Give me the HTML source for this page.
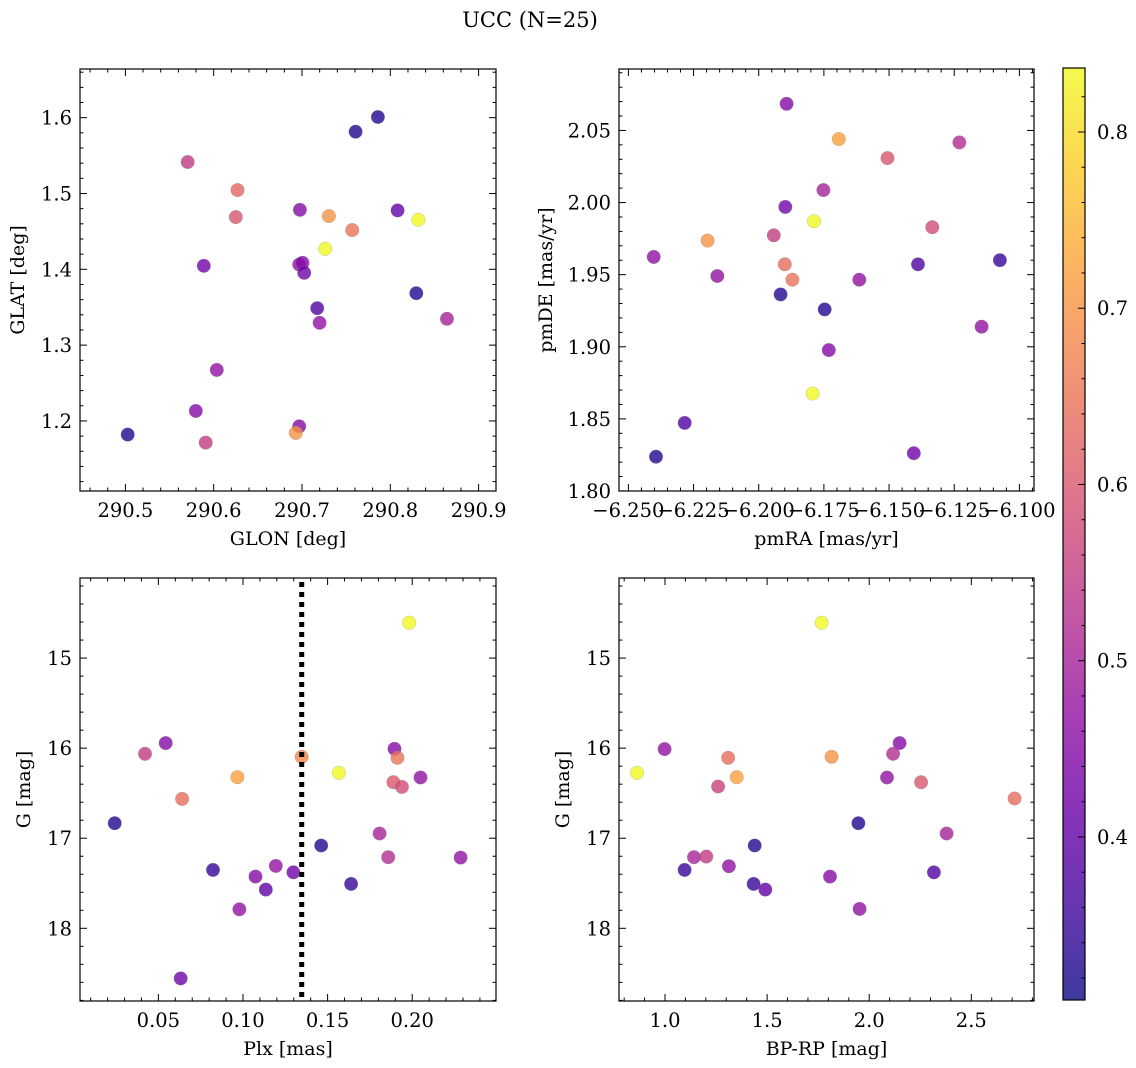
<!DOCTYPE html>
<html><head><meta charset="utf-8"><style>
html,body{margin:0;padding:0;background:#fff;}
svg{display:block;font-family:"DejaVu Serif","Liberation Serif",serif;}
</style></head><body>
<svg id="fig" width="1136" height="1068" viewBox="0 0 1136 1068" xmlns="http://www.w3.org/2000/svg">
<defs>
<linearGradient id="plasma" x1="0" y1="1" x2="0" y2="0"></linearGradient>
</defs>
<text x="530" y="27" font-size="21" text-anchor="middle">UCC (N=25)</text>
</svg>
<script>
// ---- data ----
const glon = [290.5706,290.627,290.625,290.7607,290.786,290.6976,290.7305,290.7569,290.8083,290.8317,290.7263,290.5888,290.6968,290.7006,290.7025,290.7172,290.7199,290.8294,290.8642,290.6035,290.5797,290.591,290.5026,290.6968,290.693];
const glat = [1.5415,1.5045,1.4689,1.5815,1.6009,1.4785,1.4702,1.4517,1.4777,1.4653,1.4271,1.4046,1.4064,1.4086,1.3954,1.3487,1.3294,1.3685,1.3347,1.2673,1.2132,1.1714,1.182,1.193,1.1842];
const probTL = [0.55,0.63,0.6,0.33,0.33,0.45,0.7,0.65,0.4,0.85,0.85,0.42,0.47,0.45,0.42,0.38,0.47,0.33,0.5,0.47,0.45,0.55,0.33,0.45,0.7];

const pmra = [-6.1893,-6.1693,-6.1506,-6.123,-6.1752,-6.1898,-6.1788,-6.1942,-6.1334,-6.2196,-6.2403,-6.2159,-6.19,-6.1871,-6.1614,-6.1389,-6.1075,-6.1916,-6.1747,-6.1731,-6.1145,-6.1793,-6.2284,-6.2394,-6.1405];
const pmde = [2.0685,2.044,2.0308,2.0417,2.0086,1.997,1.987,1.9773,1.9829,1.9736,1.9623,1.9491,1.9572,1.9465,1.9465,1.9572,1.96,1.9363,1.9259,1.8977,1.9139,1.8676,1.8472,1.8238,1.8262];
const probTR = [0.45,0.72,0.6,0.52,0.5,0.42,0.85,0.55,0.58,0.7,0.47,0.47,0.64,0.65,0.47,0.38,0.35,0.33,0.33,0.45,0.47,0.85,0.38,0.33,0.42];

const plx = [0.1982,0.0421,0.0543,0.0967,0.064,0.1347,0.1566,0.1895,0.1913,0.1889,0.1939,0.2049,0.0242,0.1807,0.1462,0.1858,0.2286,0.0823,0.1194,0.1074,0.1135,0.1298,0.1639,0.0979,0.0632];
const gBL = [14.607,16.063,15.944,16.322,16.563,16.096,16.274,16.007,16.107,16.378,16.43,16.326,16.833,16.948,17.081,17.211,17.215,17.352,17.307,17.426,17.57,17.378,17.507,17.789,18.556];
const probBL = [0.85,0.55,0.45,0.72,0.64,0.68,0.85,0.45,0.65,0.6,0.58,0.47,0.33,0.5,0.33,0.52,0.47,0.35,0.47,0.45,0.4,0.42,0.35,0.47,0.42];
const plxCut = [0.1347];

const bprp = [1.767,2.149,2.117,0.998,1.309,1.816,0.863,1.351,2.087,1.26,2.254,2.712,1.947,2.379,1.439,1.142,1.202,1.096,1.313,2.317,1.808,1.434,1.491,1.953];
const gBR = [14.607,15.944,16.063,16.011,16.107,16.096,16.274,16.322,16.326,16.426,16.378,16.559,16.833,16.948,17.081,17.211,17.204,17.352,17.311,17.378,17.426,17.507,17.57,17.785];
const probBR = [0.85,0.45,0.52,0.47,0.64,0.7,0.85,0.72,0.47,0.56,0.6,0.64,0.33,0.5,0.33,0.5,0.55,0.35,0.47,0.38,0.45,0.35,0.4,0.47];

const tlXTicks = [290.5,290.6,290.7,290.8,290.9];
const tlYTicks = [1.2,1.3,1.4,1.5,1.6];
const trXTicks = [-6.25,-6.225,-6.2,-6.175,-6.15,-6.125,-6.1];
const trYTicks = [1.8,1.85,1.9,1.95,2.0,2.05];
const blXTicks = [0.05,0.1,0.15,0.2];
const gTicks = [15,16,17,18];
const brXTicks = [1.0,1.5,2.0,2.5];
const cbTicks = [0.4,0.5,0.6,0.7,0.8];

const CMIN = 0.3075, CMAX = 0.8363;
const TICKFS = 19.5, LABFS = 19;
const NS = "http://www.w3.org/2000/svg";
const svg = document.getElementById('fig');
const stops = [[0,13,8,135],[0.1,65,4,157],[0.2,106,0,168],[0.3,143,13,164],[0.4,177,42,144],[0.5,204,71,120],[0.6,225,100,98],[0.7,242,132,75],[0.8,252,166,54],[0.9,252,206,37],[1,240,249,33]];
function cmap(v){
  let t=(v-CMIN)/(CMAX-CMIN); t=Math.max(0,Math.min(1,t));
  for(let i=0;i<stops.length-1;i++){
    const a=stops[i],b=stops[i+1];
    if(t<=b[0]){const f=(t-a[0])/(b[0]-a[0]);
      return 'rgb('+[1,2,3].map(k=>Math.round(a[k]+(b[k]-a[k])*f)).join(',')+')';}
  }
  return 'rgb(240,249,33)';
}
function mk(tag,attrs,parent){const e=document.createElementNS(NS,tag);for(const k in attrs)e.setAttribute(k,attrs[k]);(parent||svg).appendChild(e);return e;}
function fmt(v,d){return (v<0?'\u2212':'')+Math.abs(v).toFixed(d);}

function panel(o){
  const g=mk('g',{});
  
  
  const sx=v=>o.x0+(v-o.xd[0])/(o.xd[1]-o.xd[0])*(o.x1-o.x0);
  const sy=v=>o.inv ? o.y0+(v-o.yd[0])/(o.yd[1]-o.yd[0])*(o.y1-o.y0)
                    : o.y1-(v-o.yd[0])/(o.yd[1]-o.yd[0])*(o.y1-o.y0);
  const pg=mk('g',{},g);
  for(let i=0;i<o.xs.length;i++){
    const c=mk('circle',{cx:sx(o.xs[i]).toFixed(1),cy:sy(o.ys[i]).toFixed(1),r:6.8,fill:cmap(o.ps[i]),'fill-opacity':0.8,stroke:'#888','stroke-width':0.4,'stroke-opacity':0.6},pg);
    
    
  }
  if(o.vline){
    const l=mk('line',{x1:sx(o.vline[0]),x2:sx(o.vline[0]),y1:o.y0+4,y2:o.y1,stroke:'#000','stroke-width':5,'stroke-dasharray':'5 5'},g);
    
    
  }
  const fr=mk('rect',{x:o.x0,y:o.y0,width:o.x1-o.x0,height:o.y1-o.y0,fill:'none',stroke:'#000','stroke-width':1.2},g);
  
  
  const tk=mk('g',{stroke:'#000','stroke-width':1},g);
  const lo=o.xd[0],hi=o.xd[1];
  for(let k=Math.ceil(lo/o.xm-1e-6);k*o.xm<=hi+1e-9;k++){
    const v=k*o.xm,x=sx(v);
    const major=o.xt.some(t=>Math.abs(t-v)<o.xm*0.01);
    const L=major?7:3.5;
    mk('line',{x1:x,x2:x,y1:o.y1,y2:o.y1-L},tk);
    mk('line',{x1:x,x2:x,y1:o.y0,y2:o.y0+L},tk);
  }
  for(let k=Math.ceil(o.yd[0]/o.ym-1e-6);k*o.ym<=o.yd[1]+1e-9;k++){
    const v=k*o.ym,y=sy(v);
    const major=o.yt.some(t=>Math.abs(t-v)<o.ym*0.01);
    const L=major?7:3.5;
    mk('line',{x1:o.x0,x2:o.x0+L,y1:y,y2:y},tk);
    mk('line',{x1:o.x1,x2:o.x1-L,y1:y,y2:y},tk);
  }
  o.xt.forEach(v=>{
    const t=mk('text',{x:sx(v),y:o.y1+26,'font-size':TICKFS,'text-anchor':'middle'},g);
    t.textContent=fmt(v,o.xdp);
    
    
  });
  o.yt.forEach(v=>{
    const t=mk('text',{x:o.x0-8,y:sy(v)+7,'font-size':TICKFS,'text-anchor':'end'},g);
    t.textContent=fmt(v,o.ydp);
    
    
  });
  const xl=mk('text',{x:(o.x0+o.x1)/2,y:o.y1+54,'font-size':LABFS,'text-anchor':'middle'},g);
  xl.textContent=o.xlab;
  
  
  const yx=o.ylx, yy=(o.y0+o.y1)/2;
  const yl=mk('text',{x:yx,y:yy,'font-size':LABFS,'text-anchor':'middle',transform:'rotate(-90 '+yx+' '+yy+')'},g);
  yl.textContent=o.ylab;
  
  
}

panel({name:'glon-glat-panel',x0:80,x1:496,y0:69,y1:491,xd:[290.4486,290.9197],yd:[1.1076,1.6642],xs:glon,ys:glat,ps:probTL,xt:tlXTicks,yt:tlYTicks,xm:0.02,ym:0.02,xdp:1,ydp:1,xlab:'GLON [deg]',ylab:'GLAT [deg]',ylx:24});
panel({name:'pm-panel',x0:619,x1:1034,y0:69,y1:491,xd:[-6.2536,-6.0944],yd:[1.8,2.0926],xs:pmra,ys:pmde,ps:probTR,xt:trXTicks,yt:trYTicks,xm:0.005,ym:0.01,xdp:3,ydp:2,xlab:'pmRA [mas/yr]',ylab:'pmDE [mas/yr]',ylx:552});
panel({name:'plx-g-panel',x0:80,x1:496,y0:578,y1:1001,xd:[0.00369,0.2495],yd:[14.111,18.807],inv:true,xs:plx,ys:gBL,ps:probBL,xt:blXTicks,yt:gTicks,xm:0.01,ym:0.2,xdp:2,ydp:0,xlab:'Plx [mas]',ylab:'G [mag]',ylx:30,vline:plxCut});
panel({name:'cmd-panel',x0:619,x1:1034,y0:578,y1:1001,xd:[0.7747,2.807],yd:[14.111,18.807],inv:true,xs:bprp,ys:gBR,ps:probBR,xt:brXTicks,yt:gTicks,xm:0.1,ym:0.2,xdp:1,ydp:0,xlab:'BP-RP [mag]',ylab:'G [mag]',ylx:569});

// colorbar
const grad=document.getElementById('plasma');
for(let i=0;i<=20;i++){const v=CMIN+(CMAX-CMIN)*i/20;mk('stop',{offset:(i/20),'stop-color':cmap(v),'stop-opacity':0.8},grad);}
const cb=mk('g',{});


const cbx0=1063,cbx1=1085,cby0=68,cby1=1000;
const cy=v=>cby1-(v-CMIN)/(CMAX-CMIN)*(cby1-cby0);
mk('rect',{x:cbx0,y:cby0,width:cbx1-cbx0,height:cby1-cby0,fill:'url(#plasma)',stroke:'#000','stroke-width':1.2},cb);
for(let k=Math.ceil(CMIN/0.02);k*0.02<=CMAX;k++){
  const v=k*0.02,y=cy(v),major=cbTicks.some(t=>Math.abs(t-v)<1e-4);
  mk('line',{x1:cbx1,x2:cbx1-(major?7:3.5),y1:y,y2:y,stroke:'#000','stroke-width':1},cb);
}
cbTicks.forEach(v=>{
  const t=mk('text',{x:cbx1+12,y:cy(v)+7,'font-size':TICKFS},cb);
  t.textContent=v.toFixed(1);
  
  
});
</script>
</body></html>
